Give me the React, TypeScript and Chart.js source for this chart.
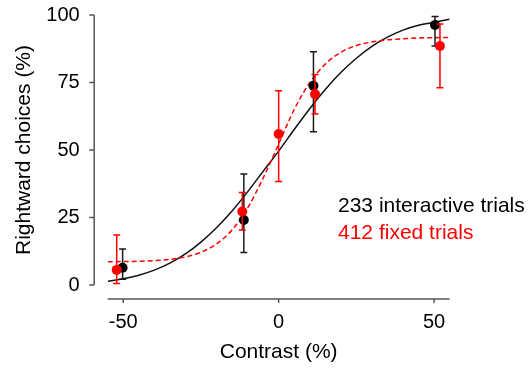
import React, { useEffect, useRef } from "react";
import { Chart, registerables } from "chart.js";

Chart.register(...registerables);

// ---- data ----
const curveX = [-55, -50, -45, -40, -35, -30, -25, -20, -15, -10, -5, 0, 5, 10, 15, 20, 25, 30, 35, 40, 45, 50, 55];
const blackCurveY = [1.4, 2.3, 3.6, 5.5, 8.1, 11.5, 15.9, 21.2, 27.4, 34.5, 42.1, 49.6, 57.6, 65.3, 72.4, 78.7, 84.0, 88.4, 91.8, 94.4, 96.2, 97.3, 98.4];
const redCurveY = [8.6, 8.7, 8.8, 9.0, 9.5, 10.4, 12.1, 15.2, 20.4, 28.5, 39.6, 52.2, 65.0, 74.9, 81.8, 86.2, 88.7, 90.0, 90.8, 91.2, 91.5, 91.6, 91.7];

const blackX = [-50.2, -11.2, 11.2, 50.3];
const blackY = [6.4, 24.1, 73.8, 96.3];
const blackLow = [2.1, 12.0, 56.8, 88.5];
const blackHigh = [13.3, 41.1, 86.4, 99.4];

const redX = [-52.1, -11.7, 0, 11.7, 51.9];
const redY = [5.6, 27.2, 55.9, 70.7, 88.5];
const redLow = [0.6, 20.4, 38.3, 63.3, 73.1];
const redHigh = [18.5, 34.3, 71.9, 78.0, 96.7];

const xTicks = [-50, 0, 50];
const yTicks = [0, 25, 50, 75, 100];
const xTitle = "Contrast (%)";
const yTitle = "Rightward choices (%)";
const legendLabels = ["233 interactive trials", "412 fixed trials"];

const FONT = "'Liberation Sans', Arial, Helvetica, sans-serif";
const BLACK = "#000000";
const RED = "#ff0000";
const AXIS = "#555555";

const errorBarPlugin = {
  id: "errorBars",
  beforeDatasetDraw(chart: any, args: any) {
    const ds: any = chart.data.datasets[args.index];
    if (!ds.errLow) return;
    const { ctx } = chart;
    const xs = chart.scales.x;
    const ys = chart.scales.y;
    ctx.save();
    ctx.strokeStyle = ds.errColor;
    ctx.lineWidth = 1.5;
    ds.data.forEach((p: any, i: number) => {
      const px = xs.getPixelForValue(p.x);
      const lo = ys.getPixelForValue(ds.errLow[i]);
      const hi = ys.getPixelForValue(ds.errHigh[i]);
      ctx.beginPath();
      ctx.moveTo(px, lo);
      ctx.lineTo(px, hi);
      ctx.moveTo(px - 3.5, lo);
      ctx.lineTo(px + 3.5, lo);
      ctx.moveTo(px - 3.5, hi);
      ctx.lineTo(px + 3.5, hi);
      ctx.stroke();
    });
    ctx.restore();
  },
};

const axesPlugin = {
  id: "detachedAxes",
  afterDraw(chart: any) {
    const { ctx, chartArea } = chart;
    const xs = chart.scales.x;
    const ys = chart.scales.y;
    ctx.save();
    ctx.strokeStyle = AXIS;
    ctx.lineWidth = 1.5;
    // y axis
    const ax = chartArea.left - 13.5;
    ctx.beginPath();
    ctx.moveTo(ax, ys.getPixelForValue(yTicks[0]));
    ctx.lineTo(ax, ys.getPixelForValue(yTicks[yTicks.length - 1]));
    yTicks.forEach((v) => {
      const py = ys.getPixelForValue(v);
      ctx.moveTo(ax, py);
      ctx.lineTo(ax - 5, py);
    });
    ctx.stroke();
    // x axis
    const ay = chartArea.bottom + 14;
    ctx.beginPath();
    ctx.moveTo(chartArea.left, ay);
    ctx.lineTo(chartArea.right, ay);
    xTicks.forEach((v) => {
      const px = xs.getPixelForValue(v);
      ctx.moveTo(px, ay);
      ctx.lineTo(px, ay + 4);
    });
    ctx.stroke();

    // legend text
    ctx.font = `21px ${FONT}`;
    ctx.textAlign = "left";
    ctx.textBaseline = "alphabetic";
    const lx = xs.getPixelForValue(19.1);
    ctx.fillStyle = BLACK;
    ctx.fillText(legendLabels[0], lx, ys.getPixelForValue(27.0));
    ctx.fillStyle = RED;
    ctx.fillText(legendLabels[1], lx, ys.getPixelForValue(16.9));
    ctx.restore();
  },
};

export default function App() {
  const ref = useRef<HTMLCanvasElement | null>(null);

  useEffect(() => {
    document.body.style.margin = "0";
    const canvas = ref.current;
    if (!canvas) return;

    const chart = new Chart(canvas, {
      type: "scatter",
      data: {
        datasets: [
          {
            label: "fixed",
            data: redX.map((x, i) => ({ x, y: redY[i] })),
            backgroundColor: RED,
            borderColor: RED,
            pointRadius: 5,
            pointBorderWidth: 0,
            showLine: false,
            clip: false,
            errLow: redLow,
            errHigh: redHigh,
            errColor: RED,
          } as any,
          {
            label: "interactive",
            data: blackX.map((x, i) => ({ x, y: blackY[i] })),
            backgroundColor: BLACK,
            borderColor: BLACK,
            pointRadius: 5,
            pointBorderWidth: 0,
            showLine: false,
            clip: false,
            errLow: blackLow,
            errHigh: blackHigh,
            errColor: "#1a1a1a",
          } as any,
          {
            label: "fixed fit",
            data: curveX.map((x, i) => ({ x, y: redCurveY[i] })),
            borderColor: RED,
            borderWidth: 1.5,
            borderDash: [5, 3],
            pointRadius: 0,
            showLine: true,
            cubicInterpolationMode: "monotone",
          } as any,
          {
            label: "interactive fit",
            data: curveX.map((x, i) => ({ x, y: blackCurveY[i] })),
            borderColor: "#111111",
            borderWidth: 1.5,
            pointRadius: 0,
            showLine: true,
            cubicInterpolationMode: "monotone",
          } as any,
        ],
      },
      options: {
        responsive: false,
        animation: false,
        devicePixelRatio: 1,
        layout: { padding: { left: 0, top: 15, right: 81.4, bottom: 0 } },
        plugins: {
          legend: { display: false },
          tooltip: { enabled: false },
        },
        scales: {
          x: {
            type: "linear",
            min: -55,
            max: 55,
            grid: {
              display: true,
              drawOnChartArea: false,
              drawTicks: true,
              tickLength: 25,
              tickColor: "rgba(0,0,0,0)",
            },
            border: { display: false },
            afterBuildTicks: (s: any) => {
              s.ticks = xTicks.map((v) => ({ value: v }));
            },
            afterFit: (s: any) => {
              s.height = 83;
            },
            ticks: {
              padding: 0,
              color: BLACK,
              font: { family: FONT, size: 20 },
              maxRotation: 0,
              autoSkip: false,
            },
            title: {
              display: true,
              text: xTitle,
              color: BLACK,
              font: { family: FONT, size: 21 },
              padding: { top: 0, bottom: 3 },
            },
          },
          y: {
            type: "linear",
            min: 0,
            max: 100,
            grid: {
              display: true,
              drawOnChartArea: false,
              drawTicks: true,
              tickLength: 28,
              tickColor: "rgba(0,0,0,0)",
            },
            border: { display: false },
            afterBuildTicks: (s: any) => {
              s.ticks = yTicks.map((v) => ({ value: v }));
            },
            afterFit: (s: any) => {
              s.width = 107.7;
            },
            ticks: {
              padding: 0,
              color: BLACK,
              font: { family: FONT, size: 20 },
              autoSkip: false,
            },
            title: {
              display: true,
              text: yTitle,
              color: BLACK,
              font: { family: FONT, size: 21 },
              padding: { top: 11.4, bottom: 0 },
            },
          },
        },
      } as any,
      plugins: [errorBarPlugin, axesPlugin],
    });

    return () => chart.destroy();
  }, []);

  return (
    <div style={{ width: 531, height: 368, background: "#ffffff" }}>
      <canvas ref={ref} width={531} height={368} style={{ display: "block" }} />
    </div>
  );
}
